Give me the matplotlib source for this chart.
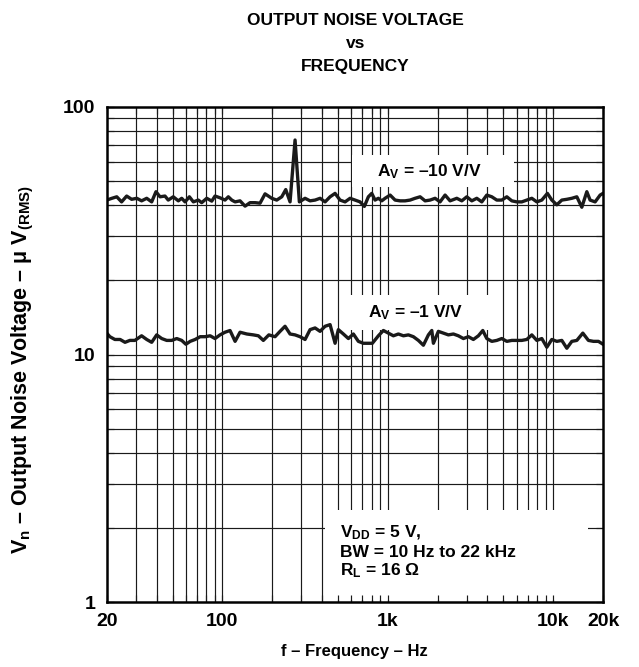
import numpy as np
import matplotlib
matplotlib.use("Agg")
import matplotlib.pyplot as plt
from matplotlib.patches import Rectangle
from matplotlib.ticker import NullFormatter

# A_V = -10 V/V curve (Hz, uV rms)
freq_av10 = [20, 21.5, 23.0, 24.6, 26.4, 28.3, 30.4, 32.5, 34.9, 37.4,
             39.7, 42.0, 45.0, 47.1, 50.5, 54.2, 56.8, 59.5, 63.2, 66.8,
             71.6, 75.0, 80.5, 86.3, 90.3, 96.8, 103.8, 108.7, 114.0, 119.4,
             127.9, 137.2, 147.0, 157.6, 169.0, 181.2, 198.9, 213.2, 228.6, 241.7,
             256.6, 275.1, 292.1, 316.2, 339.0, 363.5, 389.7, 417.8, 447.9, 480.2,
             514.6, 551.8, 591.6, 634.2, 679.8, 721.8, 763.1, 800.2, 837.7, 877.2,
             919.6, 962.9, 1033, 1107, 1187, 1272, 1364, 1462, 1568, 1681,
             1802, 1931, 2070, 2220, 2380, 2613, 2801, 3003, 3219, 3451,
             3700, 3967, 4253, 4559, 4889, 5241, 5619, 6024, 6458, 6924,
             7423, 7959, 8532, 9224, 9806, 10513, 11271, 12083, 12956, 13888,
             14889, 15962, 16709, 17915, 19210, 20000]
vn_av10 = [42.0, 42.7, 43.3, 41.3, 43.6, 42.3, 42.7, 41.7, 42.7, 41.3,
           45.4, 43.3, 43.6, 42.0, 43.3, 41.7, 42.7, 41.3, 43.3, 41.3,
           42.0, 41.0, 42.7, 41.6, 43.6, 42.9, 42.0, 43.3, 42.0, 41.3,
           41.7, 39.7, 41.0, 41.0, 40.8, 44.5, 42.7, 42.0, 43.3, 46.3,
           41.3, 73.4, 41.3, 42.7, 41.7, 42.0, 42.7, 41.3, 43.3, 44.7,
           42.0, 41.3, 42.7, 42.0, 41.3, 39.6, 43.3, 44.7, 42.0, 42.7,
           41.7, 42.7, 44.0, 42.0, 41.7, 41.7, 42.0, 42.7, 43.3, 41.7,
           42.0, 42.7, 41.3, 44.0, 41.7, 42.7, 41.7, 43.3, 41.7, 42.7,
           41.3, 44.0, 43.3, 42.0, 42.0, 43.3, 41.7, 41.3, 41.3, 42.0,
           42.7, 41.3, 42.0, 44.7, 42.0, 40.2, 42.0, 42.3, 42.7, 43.3,
           39.3, 45.4, 42.0, 41.3, 44.0, 44.7]

# A_V = -1 V/V curve
freq_av1 = [20, 20.9, 22.4, 24.1, 25.8, 27.6, 29.6, 32.5, 34.9, 37.4,
            40.1, 43.0, 46.1, 49.4, 53.0, 56.8, 60.2, 63.9, 68.5, 73.4,
            78.7, 84.4, 90.3, 96.8, 103.8, 111.3, 119.4, 127.9, 140.6, 154.1,
            165.1, 176.9, 191.0, 208.2, 223.2, 239.3, 256.6, 275.1, 294.9, 316.2,
            339.0, 363.5, 389.7, 417.8, 447.9, 480.2, 502.6, 539.0, 577.9, 619.5,
            664.0, 711.9, 763.1, 806.8, 877.2, 940.4, 1008, 1081, 1159, 1243,
            1332, 1428, 1531, 1641, 1760, 1845, 1887, 2022, 2168, 2325,
            2492, 2671, 2864, 3071, 3291, 3529, 3752, 3967, 4253, 4559,
            4889, 5241, 5619, 6024, 6458, 6924, 7423, 7959, 8532, 9147,
            9806, 10513, 11271, 12083, 12956, 13888, 15097, 16318, 17501, 18761,
            20000]
vn_av1 = [12.2, 11.8, 11.5, 11.5, 11.2, 11.4, 11.4, 11.9, 11.5, 11.2,
          12.0, 11.6, 11.4, 11.4, 11.6, 11.4, 11.0, 11.3, 11.5, 11.8,
          11.8, 11.9, 11.6, 12.0, 12.3, 12.5, 11.3, 12.3, 12.1, 12.0,
          11.9, 11.4, 12.0, 11.8, 12.4, 13.0, 12.1, 12.0, 11.8, 11.5,
          12.6, 12.8, 12.4, 13.0, 13.2, 11.1, 12.6, 12.1, 11.6, 12.1,
          11.3, 11.1, 11.1, 11.1, 11.9, 12.5, 12.2, 11.9, 12.1, 11.9,
          12.0, 11.8, 11.4, 10.9, 12.0, 12.5, 11.1, 12.4, 12.2, 12.0,
          12.1, 11.9, 11.6, 11.8, 11.5, 11.9, 12.5, 11.6, 11.3, 11.4,
          11.6, 11.3, 11.4, 11.4, 11.4, 11.5, 12.0, 11.4, 11.6, 10.7,
          11.5, 11.3, 11.4, 10.6, 11.3, 11.4, 12.2, 11.4, 11.3, 11.3,
          11.0]

xticks = [20, 100, 1000, 10000, 20000]
xticklabels = ["20", "100", "1k", "10k", "20k"]
yticks = [1, 10, 100]
yticklabels = ["1", "10", "100"]

plt.rcParams['font.family'] = ['Liberation Sans', 'DejaVu Sans']
plt.rcParams['font.weight'] = 'bold'
plt.rcParams['axes.labelweight'] = 'bold'
plt.rcParams['mathtext.fontset'] = 'custom'
plt.rcParams['mathtext.rm'] = 'Liberation Sans:bold'
plt.rcParams['mathtext.it'] = 'Liberation Sans:bold'
plt.rcParams['mathtext.bf'] = 'Liberation Sans:bold'

fig = plt.figure(figsize=(6.39, 6.67), dpi=100)
ax = fig.add_axes([0.167, 0.097, 0.7767, 0.743])
ax.set_xscale('log')
ax.set_yscale('log')
ax.set_xlim(20, 20000)
ax.set_ylim(1, 100)

# log grid, drawn under the white label boxes
for dec in [10, 100, 1000, 10000]:
    for m in range(1, 10):
        v = m * dec
        if 20 < v < 20000:
            ax.axvline(v, color='0.1', lw=0.85, zorder=0.8)
for dec in [1, 10]:
    for m in range(1, 10):
        v = m * dec
        if 1 < v < 100:
            ax.axhline(v, color='0.1', lw=0.85, zorder=0.8)

# white boxes behind the labels
ax.add_patch(Rectangle((0.495, 0.838), 0.325, 0.065, transform=ax.transAxes,
                       facecolor='white', edgecolor='none', zorder=1))
ax.add_patch(Rectangle((0.470, 0.549), 0.318, 0.071, transform=ax.transAxes,
                       facecolor='white', edgecolor='none', zorder=1))
ax.add_patch(Rectangle((0.440, 0.005), 0.530, 0.181, transform=ax.transAxes,
                       facecolor='white', edgecolor='none', zorder=1))

ax.plot(freq_av10, vn_av10, color='#1a1a1a', lw=2.4, zorder=2.2)
ax.plot(freq_av1, vn_av1, color='#1a1a1a', lw=2.4, zorder=2.2)

ax.text(0.650, 0.868, r'A$_{V}$ = –10 V/V', transform=ax.transAxes,
        ha='center', va='center', fontsize=12.5, zorder=3)
ax.text(0.623, 0.585, r'A$_{V}$ = –1 V/V', transform=ax.transAxes,
        ha='center', va='center', fontsize=12.5, zorder=3)
ax.text(0.470, 0.140, r'V$_{DD}$ = 5 V,', transform=ax.transAxes,
        ha='left', va='center', fontsize=12.5, zorder=3)
ax.text(0.470, 0.101, 'BW = 10 Hz to 22 kHz', transform=ax.transAxes,
        ha='left', va='center', fontsize=12.5, zorder=3)
ax.text(0.470, 0.063, r'R$_{L}$ = 16 Ω', transform=ax.transAxes,
        ha='left', va='center', fontsize=12.5, zorder=3)

ax.set_xticks(xticks)
ax.set_xticklabels(xticklabels)
ax.set_yticks(yticks)
ax.set_yticklabels(yticklabels)
ax.xaxis.set_minor_formatter(NullFormatter())
ax.yaxis.set_minor_formatter(NullFormatter())
ax.tick_params(which='both', direction='in', top=True, right=True,
               length=5, width=0.85, color='0.1')
ax.tick_params(axis='both', which='major', labelsize=14, pad=8)
for s in ax.spines.values():
    s.set_linewidth(1.8)
    s.set_zorder(4)

ax.set_xlabel('f – Frequency – Hz', fontsize=12, fontweight='bold', va='center')
ax.xaxis.set_label_coords(0.5, -0.100)
ax.set_ylabel(r'V$_{n}$ – Output Noise Voltage – μ V$_{(RMS)}$', fontsize=15.5,
              fontweight='bold', va='center')
ax.yaxis.set_label_coords(-0.168, 0.47)

fig.text(0.556, 0.970, 'OUTPUT NOISE VOLTAGE', ha='center', va='center', fontsize=12.5)
fig.text(0.556, 0.9355, 'vs', ha='center', va='center', fontsize=12.5)
fig.text(0.556, 0.901, 'FREQUENCY', ha='center', va='center', fontsize=12.5)

fig.savefig('out.png', dpi=100)
